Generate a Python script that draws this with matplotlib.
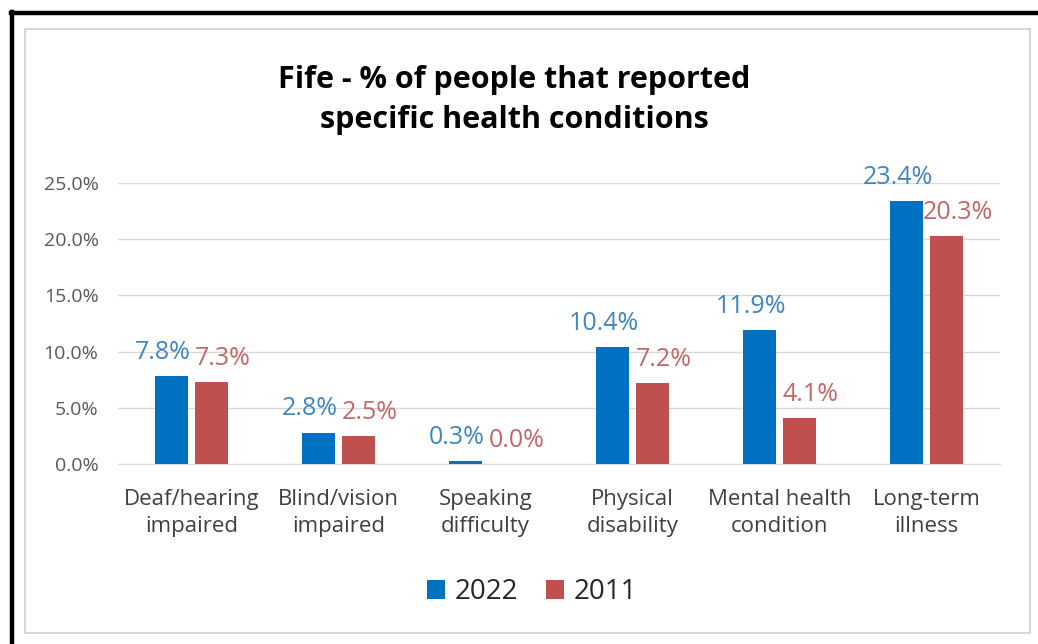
import matplotlib.pyplot as plt
from matplotlib.patches import Rectangle
from matplotlib.lines import Line2D
from matplotlib.ticker import FuncFormatter
import numpy as np

categories = ['Deaf/hearing\nimpaired', 'Blind/vision\nimpaired', 'Speaking\ndifficulty',
              'Physical\ndisability', 'Mental health\ncondition', 'Long-term\nillness']
pct_2022 = [7.8, 2.8, 0.3, 10.4, 11.9, 23.4]
pct_2011 = [7.3, 2.5, 0.0, 7.2, 4.1, 20.3]
series = ['2022', '2011']

bar_cols = ['#0070C0', '#C0504D']
lbl_cols = ['#3F86C0', '#C26765']

plt.rcParams['font.family'] = ['Open Sans', 'DejaVu Sans']

fig = plt.figure(figsize=(10.38, 6.44), dpi=100)

# outer black frame (top and left edges) and grey chart border
fig.add_artist(Line2D([0.0115, 0.0115], [0, 0.981], color='black', lw=3.2,
                      transform=fig.transFigure))
fig.add_artist(Line2D([0.0105, 1.0], [0.980, 0.980], color='black', lw=3.2,
                      transform=fig.transFigure))
fig.add_artist(Rectangle((25 / 1038, 1 - 633 / 644), 1005 / 1038, 604 / 644,
                         fill=False, ec='#D0D0D0', lw=1.2, transform=fig.transFigure))

ax = fig.add_axes([118 / 1038, 1 - 464 / 644, 882 / 1038, 281 / 644])

x = np.arange(len(categories))
w = 0.22
off = 0.135
# value labels sit above each bar, nudged apart so neighbours don't collide
for vals, col, lcol, sgn, dx, name in zip([pct_2022, pct_2011], bar_cols, lbl_cols,
                                          [-1, 1], [-6.5, 8], series):
    bars = ax.bar(x + sgn * off, vals, w, color=col, label=name, zorder=3)
    for b, v in zip(bars, vals):
        ax.annotate(f'{v:.1f}%', (b.get_x() + b.get_width() / 2, v),
                    xytext=(dx, 17), textcoords='offset points',
                    ha='center', va='center', fontsize=18, color=lcol)

ax.set_xlim(-0.5, len(categories) - 0.5)
ax.set_ylim(0, 25)
ax.set_yticks(np.arange(0, 26, 5))
ax.yaxis.set_major_formatter(FuncFormatter(lambda v, p: f'{v:.1f}%'))
ax.grid(axis='y', color='#D9D9D9', lw=1, zorder=0)
for s in ['top', 'right', 'left']:
    ax.spines[s].set_visible(False)
ax.spines['bottom'].set_color('#D9D9D9')
ax.tick_params(axis='y', length=0, labelsize=14, labelcolor='#595959', pad=14)
ax.tick_params(axis='x', length=0, labelsize=16, labelcolor='#404040', pad=18)
ax.set_xticks(x)
ax.set_xticklabels(categories, linespacing=1.35)

fig.text(514 / 1038, 1 - 100 / 644, 'Fife - % of people that reported\nspecific health conditions',
         ha='center', va='center', fontsize=22, fontweight='bold', color='black',
         linespacing=1.45)

fig.legend(loc='center', bbox_to_anchor=(532 / 1038, 1 - 592 / 644), ncol=2,
           frameon=False, fontsize=20, handlelength=0.65, handleheight=0.65,
           handletextpad=0.35, columnspacing=1.0, labelcolor='#262626')

fig.savefig('out.png', dpi=100, facecolor='white')
